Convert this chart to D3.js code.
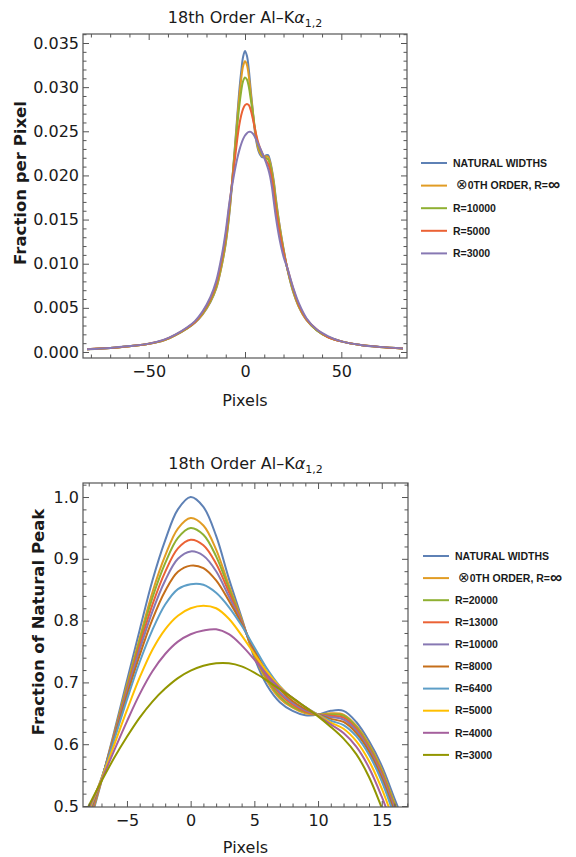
<!DOCTYPE html>
<html><head><meta charset="utf-8">
<script src="https://cdn.jsdelivr.net/npm/d3@7"></script>
<style>
body{margin:0;background:#fff}
svg{display:block}
</style>
</head><body>
<svg id="chart" width="576" height="857"></svg>
<script>
// ---------------- DATA: top panel (fraction per pixel) ----------------
const topX = [-82,-70,-60,-50,-42,-36,-30,-26,-22,-18,-15,-12,-10,-8,-6,-4,-3,-2,-1,0,1,2,3,4,5,6,7,8,9,10,11,12,13,14,15,16,18,20,22,25,28,32,37,43,50,60,70,82];
const topNatural = [0.00031,0.00044,0.00065,0.00092,0.00133,0.00191,0.00266,0.00331,0.00426,0.00563,0.00716,0.00989,0.01228,0.01586,0.02114,0.02677,0.0295,0.03171,0.03342,0.0341,0.03355,0.03195,0.0296,0.02745,0.02523,0.0237,0.02278,0.0223,0.02206,0.0221,0.0223,0.0223,0.02169,0.02063,0.01927,0.01746,0.0143,0.0117,0.0094,0.0068,0.0051,0.0036,0.0025,0.0017,0.0012,0.00078,0.00056,0.0004];
const topZeroOrder = [0.00031,0.00044,0.00065,0.00092,0.00133,0.00191,0.00267,0.00333,0.0043,0.0057,0.0072,0.0099,0.0124,0.01606,0.02104,0.02633,0.02885,0.03086,0.03236,0.03294,0.03253,0.0312,0.02922,0.02735,0.02537,0.02394,0.02298,0.02247,0.02217,0.0221,0.02217,0.0221,0.02148,0.02046,0.01906,0.01722,0.0142,0.0116,0.0094,0.0069,0.0051,0.0036,0.0025,0.0017,0.0012,0.00078,0.00056,0.0004];
const topR10000 = [0.00031,0.00045,0.00066,0.00093,0.00135,0.00194,0.0027,0.0034,0.0044,0.0058,0.0074,0.0102,0.0127,0.0164,0.02087,0.02568,0.02779,0.0295,0.03069,0.0311,0.03086,0.03001,0.02861,0.02718,0.02561,0.02428,0.02332,0.02274,0.02234,0.0221,0.02196,0.02182,0.02121,0.02015,0.01872,0.01688,0.0139,0.0115,0.0094,0.0070,0.0052,0.0037,0.0025,0.0017,0.0012,0.00079,0.00057,0.0004];
const topR5000 = [0.00032,0.00045,0.00066,0.00094,0.00137,0.00197,0.00275,0.0034,0.0045,0.0060,0.0077,0.0106,0.0132,0.01681,0.02043,0.02414,0.02568,0.0268,0.02755,0.02796,0.0281,0.02796,0.02738,0.02646,0.02544,0.02445,0.02363,0.02298,0.02251,0.02206,0.02165,0.02131,0.02063,0.01954,0.018,0.0162,0.0135,0.0113,0.0095,0.0072,0.0053,0.0037,0.0026,0.0017,0.0012,0.00079,0.00057,0.0004];
const topR3000 = [0.00032,0.00046,0.00067,0.00095,0.0014,0.002,0.0028,0.0035,0.0046,0.0062,0.0080,0.0110,0.0137,0.01705,0.01971,0.02193,0.02281,0.02353,0.02411,0.02452,0.02479,0.02493,0.02493,0.02476,0.02442,0.02397,0.0235,0.02302,0.02251,0.022,0.02141,0.02077,0.01991,0.01865,0.01695,0.0153,0.0127,0.0108,0.0095,0.0073,0.0055,0.0038,0.0026,0.0018,0.0012,0.0008,0.00058,0.00041];
const topLabels = ["NATURAL WIDTHS","\u22970TH ORDER, R=\u221E","R=10000","R=5000","R=3000"];
const topXTicks = [-50,0,50];
const topYTicks = [0,0.005,0.01,0.015,0.02,0.025,0.03,0.035];

// ---------------- DATA: bottom panel (fraction of natural peak) ----------------
const botX = [-8.5,-8,-7,-6,-5,-4,-3,-2,-1,0,1,2,3,4,5,6,7,8,9,10,11,12,13,14,15,16,17];
const botNatural = [0.43,0.465,0.54,0.62,0.703,0.785,0.865,0.93,0.98,1.0,0.984,0.937,0.868,0.805,0.74,0.695,0.668,0.654,0.647,0.648,0.654,0.654,0.636,0.605,0.565,0.512,0.46];
const botZeroOrder = [0.438,0.471,0.541,0.617,0.696,0.772,0.846,0.905,0.949,0.966,0.954,0.915,0.857,0.802,0.744,0.702,0.674,0.659,0.650,0.648,0.650,0.648,0.630,0.600,0.559,0.505,0.453];
const botR20000 = [0.441,0.474,0.542,0.615,0.692,0.767,0.837,0.893,0.934,0.950,0.939,0.904,0.852,0.800,0.746,0.705,0.677,0.661,0.652,0.648,0.648,0.646,0.628,0.597,0.556,0.502,0.449];
const botR13000 = [0.446,0.477,0.542,0.614,0.688,0.760,0.826,0.879,0.917,0.931,0.922,0.892,0.846,0.799,0.748,0.708,0.681,0.664,0.653,0.648,0.646,0.643,0.625,0.594,0.553,0.498,0.445];
const botR10000 = [0.450,0.481,0.543,0.612,0.684,0.753,0.815,0.865,0.900,0.912,0.905,0.880,0.839,0.797,0.751,0.712,0.684,0.667,0.655,0.648,0.644,0.640,0.622,0.591,0.549,0.495,0.441];
const botR8000 = [0.455,0.485,0.544,0.610,0.679,0.744,0.802,0.848,0.879,0.889,0.885,0.865,0.832,0.795,0.753,0.716,0.689,0.670,0.657,0.648,0.641,0.636,0.618,0.588,0.545,0.490,0.436];
const botR6400 = [0.462,0.490,0.545,0.607,0.672,0.733,0.785,0.826,0.851,0.859,0.858,0.845,0.822,0.792,0.757,0.722,0.694,0.674,0.660,0.648,0.638,0.631,0.613,0.583,0.540,0.484,0.430];
const botR5000 = [0.466,0.493,0.544,0.599,0.655,0.708,0.753,0.786,0.808,0.820,0.824,0.820,0.803,0.776,0.746,0.717,0.693,0.674,0.660,0.647,0.635,0.625,0.605,0.573,0.528,0.473,0.419];
const botR4000 = [0.471,0.496,0.542,0.590,0.637,0.681,0.718,0.746,0.766,0.778,0.784,0.786,0.778,0.760,0.737,0.712,0.691,0.675,0.660,0.646,0.632,0.618,0.596,0.562,0.515,0.460,0.407];
const botR3000 = [0.478,0.500,0.540,0.578,0.612,0.643,0.669,0.690,0.707,0.719,0.727,0.731,0.731,0.726,0.716,0.703,0.689,0.675,0.660,0.645,0.628,0.609,0.584,0.547,0.497,0.443,0.390];
const botLabels = ["NATURAL WIDTHS","\u22970TH ORDER, R=\u221E","R=20000","R=13000","R=10000","R=8000","R=6400","R=5000","R=4000","R=3000"];
const botXTicks = [-5,0,5,10,15];
const botYTicks = [0.5,0.6,0.7,0.8,0.9,1.0];

// ---------------- STYLE ----------------
const palette = ["#5E81B5","#E19C24","#8FB032","#EB6235","#8778B3","#C56E1A","#5D9EC7","#FFBF00","#A5609D","#929600"];
const FONT = '"DejaVu Sans", Verdana, sans-serif';
const LEGFONT = '"Liberation Sans", Arial, Helvetica, sans-serif';
const svg = d3.select("#chart");

function panel(o) {
  const g = svg.append("g");
  const x = d3.scaleLinear().domain(o.xDomain).range([o.left, o.right]);
  const y = d3.scaleLinear().domain(o.yDomain).range([o.bottom, o.top]);
  const clipId = "clip" + o.id;
  g.append("clipPath").attr("id", clipId).append("rect")
    .attr("x", o.left).attr("y", o.top).attr("width", o.right - o.left).attr("height", o.bottom - o.top);

  // curves
  const line = d3.line().x(d => x(d[0])).y(d => y(d[1])).curve(d3.curveCatmullRom.alpha(0.5));
  const lg = g.append("g").attr("clip-path", `url(#${clipId})`);
  o.series.forEach((vals, i) => {
    lg.append("path").datum(o.xs.map((xv, j) => [xv, vals[j]]))
      .attr("fill", "none").attr("stroke", palette[i]).attr("stroke-width", 2)
      .attr("stroke-linejoin", "round").attr("d", line);
  });

  // axes (ticks inward)
  const minorX = d3.range(Math.ceil(o.xDomain[0] / o.xMinor) * o.xMinor, o.xDomain[1] + 1e-9, o.xMinor)
      .filter(v => !o.xTicks.some(t => Math.abs(t - v) < 1e-9));
  const minorY = d3.range(Math.ceil(o.yDomain[0] / o.yMinor - 1e-9) * o.yMinor, o.yDomain[1] + 1e-9, o.yMinor)
      .filter(v => !o.yTicks.some(t => Math.abs(t - v) < 1e-9));
  function styleAxis(sel, labels) {
    sel.select(".domain").remove();
    sel.selectAll(".tick line").attr("stroke", "#555").attr("stroke-width", 1);
    sel.selectAll("text").attr("fill", labels ? "#1a1a1a" : "none")
      .attr("font-size", 16).attr("font-family", FONT);
    sel.attr("font-family", FONT);
  }
  const sides = [
    [d3.axisBottom, x, `translate(0,${o.bottom})`, true, true],
    [d3.axisTop, x, `translate(0,${o.top})`, true, false],
    [d3.axisLeft, y, `translate(${o.left},0)`, false, true],
    [d3.axisRight, y, `translate(${o.right},0)`, false, false]
  ];
  sides.forEach(([make, sc, tr, isX, lab]) => {
    const major = make(sc)
      .tickValues(isX ? o.xTicks : o.yTicks)
      .tickFormat(isX ? o.xFmt : o.yFmt)
      .tickSize(-6).tickPadding(isX ? 8 : 4);
    const minor = make(sc).tickValues(isX ? minorX : minorY).tickFormat("").tickSize(-3.5);
    g.append("g").attr("transform", tr).call(minor).call(s => styleAxis(s, false));
    if (lab) {
      g.append("g").attr("transform", tr).call(major).call(s => styleAxis(s, true));
    } else {
      g.append("g").attr("transform", tr).call(major.tickFormat("")).call(s => styleAxis(s, false));
    }
  });

  // frame
  g.append("rect").attr("x", o.left).attr("y", o.top)
    .attr("width", o.right - o.left).attr("height", o.bottom - o.top)
    .attr("fill", "none").attr("stroke", "#555").attr("stroke-width", 1.2);

  // title
  const cx = (o.left + o.right) / 2;
  const t = g.append("text").attr("x", cx).attr("y", o.titleY).attr("text-anchor", "middle")
    .attr("font-family", FONT).attr("font-size", 16).attr("fill", "#1a1a1a");
  t.append("tspan").text("18th Order Al\u2013K");
  t.append("tspan").attr("font-style", "italic").text("\u03B1");
  t.append("tspan").attr("font-size", 11).attr("dy", 4).text("1,2");

  // axis labels
  g.append("text").attr("x", cx).attr("y", o.xLabelY).attr("text-anchor", "middle")
    .attr("font-family", FONT).attr("font-size", 16).attr("fill", "#1a1a1a").text("Pixels");
  g.append("text").attr("transform", `translate(${o.yLabelX},${o.yLabelY}) rotate(-90)`)
    .attr("text-anchor", "middle").attr("dy", "0.35em")
    .attr("font-family", FONT).attr("font-size", 16.5).attr("font-weight", "bold").attr("fill", "#1a1a1a")
    .text(o.yLabel);

  // legend
  const leg = g.append("g");
  o.labels.forEach((lbl, i) => {
    const yy = o.legY + i * o.legStep;
    leg.append("line").attr("x1", o.legX).attr("x2", o.legX + 26).attr("y1", yy).attr("y2", yy)
      .attr("stroke", palette[i]).attr("stroke-width", 2);
    const tx = leg.append("text").attr("x", o.legX + 32).attr("y", yy).attr("dy", "0.36em")
      .attr("font-family", LEGFONT).attr("font-size", 10.5).attr("font-weight", "bold").attr("fill", "#1a1a1a");
    if (lbl.startsWith("\u2297")) {
      tx.attr("x", o.legX + 35);
      tx.append("tspan").attr("font-size", 14).attr("font-weight", "normal").attr("font-family", '"DejaVu Sans", sans-serif').text("\u2297");
      tx.append("tspan").text(lbl.slice(1, -1));
      tx.append("tspan").attr("font-size", 17).attr("dy", "0.05em").text("\u221E");
    } else {
      tx.text(lbl);
    }
  });
}

panel({
  id: "top", left: 83, right: 407, top: 34, bottom: 358,
  xDomain: [-84.1, 84.1], yDomain: [-0.00068, 0.03602],
  xs: topX, series: [topNatural, topZeroOrder, topR10000, topR5000, topR3000],
  xTicks: topXTicks, yTicks: topYTicks, xMinor: 10, yMinor: 0.001,
  xFmt: d3.format("d"), yFmt: d3.format(".3f"),
  titleY: 23, xLabelY: 406, yLabel: "Fraction per Pixel", yLabelX: 20, yLabelY: 183,
  labels: topLabels, legX: 421, legY: 163, legStep: 22.6
});

panel({
  id: "bot", left: 83, right: 408, top: 483, bottom: 807,
  xDomain: [-8.45, 17.06], yDomain: [0.4984, 1.0227],
  xs: botX, series: [botNatural, botZeroOrder, botR20000, botR13000, botR10000, botR8000, botR6400, botR5000, botR4000, botR3000],
  xTicks: botXTicks, yTicks: botYTicks, xMinor: 1, yMinor: 0.02,
  xFmt: d3.format("d"), yFmt: d3.format(".1f"),
  titleY: 469, xLabelY: 853, yLabel: "Fraction of Natural Peak", yLabelX: 38, yLabelY: 622,
  labels: botLabels, legX: 423, legY: 556, legStep: 22.1
});
</script>
</body></html>
